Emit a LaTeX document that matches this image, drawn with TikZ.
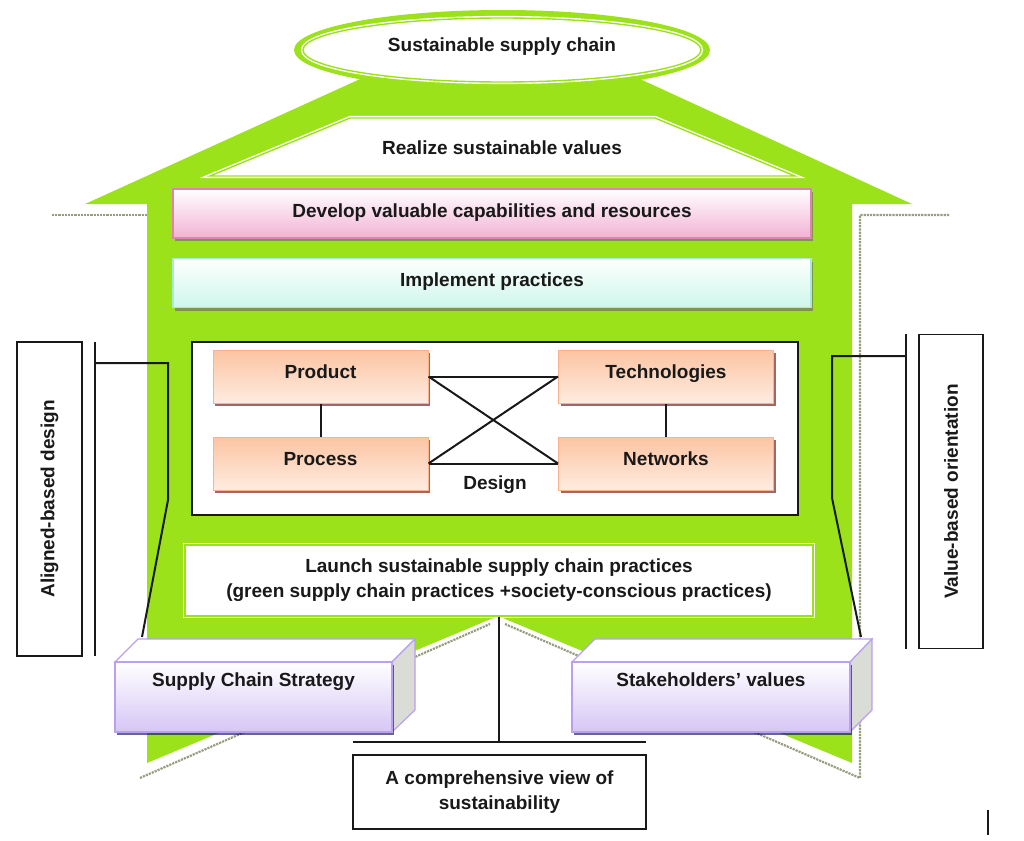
\documentclass[tikz,border=0pt]{standalone}
\usepackage{fontspec}
\setmainfont{Liberation Sans}
\usetikzlibrary{shadows,calc}
\definecolor{lime}{RGB}{156,226,26}
\definecolor{shd}{RGB}{150,158,128}
\definecolor{pinkb}{RGB}{228,130,175}
\definecolor{pinkf}{RGB}{242,178,212}
\definecolor{cyanb}{RGB}{165,235,215}
\definecolor{cyanf}{RGB}{205,246,234}
\definecolor{orb}{RGB}{250,178,140}
\definecolor{orf1}{RGB}{252,196,162}
\definecolor{orf2}{RGB}{254,236,224}
\definecolor{lavb}{RGB}{185,160,240}
\definecolor{lavf}{RGB}{214,198,246}
\definecolor{sidef}{RGB}{218,220,214}
\definecolor{ink}{RGB}{25,25,25}
\begin{document}
\begin{tikzpicture}[x=1pt,y=-1pt,
  font=\fontsize{19}{25}\selectfont\bfseries,
  every node/.style={text=ink},
  txt/.style={inner sep=0pt, align=center},
  dbl/.style={draw=white, double=lime, double distance=1.4pt, line width=1.4pt, fill=white},
  bshadow/.style={drop shadow={shadow xshift=2pt, shadow yshift=-3pt, fill=#1, opacity=0.6}},
  bshadow/.default={black!60},
  barbox/.style={draw=#1, line width=1.2pt, minimum width=638pt, minimum height=49pt, bshadow,
     inner sep=0pt, text height=14pt, text depth=7pt},
  orbox/.style={draw=orb, line width=1pt, minimum width=215pt, minimum height=53pt,
     top color=orf1, bottom color=orf2, bshadow={red!40!black}, inner sep=0pt,
     text height=14pt, text depth=10pt},
  front/.style={draw=lavb, line width=1.2pt, minimum width=277pt, minimum height=70pt,
     top color=white, bottom color=lavf, bshadow={blue!30!black}, inner sep=0pt,
     text height=14pt, text depth=36pt},
  sidebox/.style={draw=ink, line width=1.6pt, minimum width=65pt, minimum height=314pt, fill=white, inner sep=0pt},
  conn/.style={draw=ink, line width=2pt},
  hshadow/.style={draw=shd, line width=2.2pt, densely dotted}
]
\useasboundingbox (0,0) rectangle (1024,840);

% house shadow
\draw[hshadow] (52,215) -- (147,215);
\draw[hshadow] (949,215) -- (860,215) -- (860,778) -- (505,624);
\draw[hshadow] (140,778) -- (490,624);

% house
\fill[lime] (85,204) -- (347,85) -- (402,60) -- (598,60) -- (653,85) -- (912,204)
  -- (852,204) -- (852,763) -- (498,616) -- (147,763) -- (147,204) -- cycle;

% top ellipse
\fill[lime] (502,50) ellipse [x radius=208, y radius=40];
\path[dbl] (502,50) ellipse [x radius=199, y radius=32];
\node[txt] (ssc) at (502,47) {Sustainable supply chain};

% realize trapezoid
\path[dbl] (350,118) -- (655,118) -- (795,176) -- (210,176) -- cycle;
\node[txt] (rsv) at (502,148) {Realize sustainable values};

% develop / implement
\node[barbox=pinkb, top color=white, bottom color=pinkf] (dev) at (492,213.5)
  {Develop valuable capabilities and resources};
\node[barbox=cyanb, top color=white, bottom color=cyanf] (imp) at (492,283)
  {Implement practices};

% design area
\node[draw=ink, line width=1.8pt, fill=white, minimum width=606pt, minimum height=173pt] (des) at (495,428.5) {};
\node[orbox] (prod) at (320.5,376.5) {Product};
\node[orbox] (proc) at (320.5,463.5) {Process};
\node[orbox] (tech) at (666,376.5) {Technologies};
\node[orbox] (netw) at (666,463.5) {Networks};
\node[txt] (dlbl) at (495,485) {Design};
\draw[conn] (prod.east) -- (tech.west);
\draw[conn] (proc.east) -- (netw.west);
\draw[conn] (prod.east) -- (netw.west);
\draw[conn] (proc.east) -- (tech.west);
\draw[conn] (prod.south) -- (proc.north);
\draw[conn] (tech.south) -- (netw.north);

% launch box
\node[dbl, minimum width=628pt, minimum height=71pt, txt] (lau) at (499,580.5)
  {Launch sustainable supply chain practices\\(green supply chain practices +society-conscious practices)};

% side boxes and brackets
\node[sidebox] (ali) at (49.5,499) {\rotatebox{90}{Aligned-based design}};
\node[sidebox, minimum width=64pt] (vbo) at (951,491.5) {\rotatebox{90}{Value-based orientation}};
\coordinate (lbt) at (95,342); \coordinate (lbb) at (95,656);
\coordinate (rbt) at (906,334); \coordinate (rbb) at (906,649);
\draw[conn] (lbt) -- (lbb);
\draw[conn] (rbt) -- (rbb);

% 3D boxes
\fill[white, draw=lavb, line width=1.2pt] (115,662) -- (138,639) -- (415,639) -- (392,662) -- cycle;
\filldraw[fill=sidef, draw=lavb, line width=1.2pt] (392,662) -- (415,639) -- (415,710) -- (392,732) -- cycle;
\node[front] (scs) at (253.5,697) {Supply Chain Strategy};
\fill[white, draw=lavb, line width=1.2pt] (572,662) -- (595,639) -- (872,639) -- (850,662) -- cycle;
\filldraw[fill=sidef, draw=lavb, line width=1.2pt] (850,662) -- (872,639) -- (872,710) -- (850,732) -- cycle;
\node[front, minimum width=278pt] (skv) at (711,697) {Stakeholders’ values};

\coordinate (scstop) at (142,637);
\coordinate (skvtop) at (861,637);
\draw[conn] (95,363) -- (168,363) -- (168,500) -- (scstop);
\draw[conn] (906,356) -- (832,356) -- (832,498) -- (skvtop);

% bottom
\node[draw=ink, line width=1.6pt, fill=white, minimum width=293pt, minimum height=74pt, txt] (comp) at (499.5,792)
  {A comprehensive view of\\sustainability};
\coordinate (hb) at (499,742);
\draw[conn] (lau.south) -- (hb);
\draw[conn] (353,742) -- (646,742);

\draw[line width=2.5pt, ink] (988,810) -- (988,835);
\end{tikzpicture}
\end{document}
